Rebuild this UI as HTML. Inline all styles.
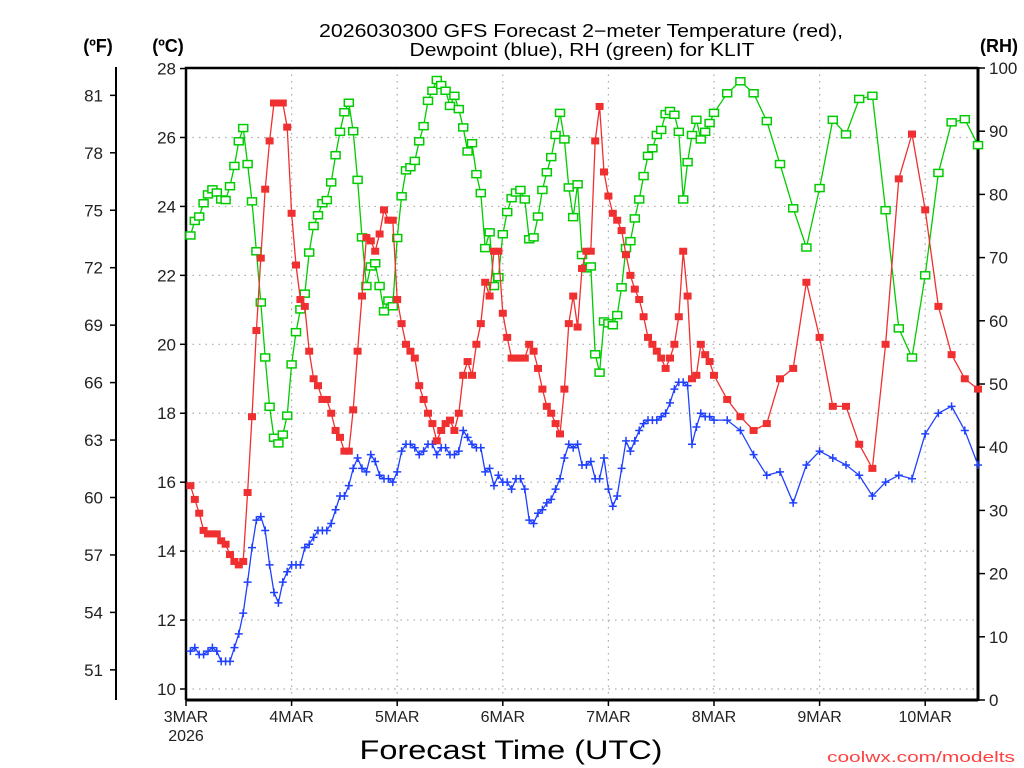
<!DOCTYPE html>
<html><head><meta charset="utf-8"><title>GFS Forecast KLIT</title>
<style>
html,body{margin:0;padding:0;background:#fff;width:1024px;height:768px;overflow:hidden}
svg text{font-family:"Liberation Sans","DejaVu Sans",sans-serif}
</style></head>
<body>
<svg id="chart" width="1024" height="768" viewBox="0 0 1024 768" xmlns="http://www.w3.org/2000/svg">
<text x="581" y="37" font-size="18" text-anchor="middle" textLength="524" lengthAdjust="spacingAndGlyphs">2026030300 GFS Forecast 2−meter Temperature (red),</text>
<text x="582" y="56" font-size="18" text-anchor="middle" textLength="345" lengthAdjust="spacingAndGlyphs">Dewpoint (blue), RH (green) for KLIT</text>
<text x="98" y="52" font-size="18" font-weight="bold" text-anchor="middle">(ºF)</text>
<text x="168" y="52" font-size="18" font-weight="bold" text-anchor="middle">(ºC)</text>
<text x="999" y="52" font-size="18" font-weight="bold" text-anchor="middle">(RH)</text>
<text x="511" y="759" font-size="27" text-anchor="middle" textLength="303" lengthAdjust="spacingAndGlyphs">Forecast Time (UTC)</text>
<text x="1015" y="762" font-size="15" fill="#ff4040" text-anchor="end" textLength="188" lengthAdjust="spacingAndGlyphs">coolwx.com/modelts</text>
<g id="grid"></g><g id="axes"></g><g id="series"></g>
</svg>
<script>
// ---- data ----
const hoursHourly = Array.from({length:120},(_, i)=>i+1);
const hours3h = [123,126,129,132,135,138,141,144,147,150,153,156,159,162,165,168,171,174,177,180];
const forecastHours = hoursHourly.concat(hours3h);
const tempC = [15.9,15.5,15.1,14.6,14.5,14.5,14.5,14.3,14.2,13.9,13.7,13.6,13.7,15.7,17.9,20.4,22.5,24.5,25.9,27.0,27.0,27.0,26.3,23.8,22.3,21.3,21.1,19.8,19.0,18.8,18.4,18.4,18.0,17.5,17.3,16.9,16.9,18.1,19.8,21.4,23.1,23.0,22.7,23.2,23.9,23.6,23.6,21.3,20.6,20.0,19.8,19.6,18.8,18.4,18.0,17.7,17.2,17.5,17.7,17.8,17.5,18.0,19.1,19.5,19.1,20.0,20.6,21.8,21.4,22.7,22.7,20.9,20.2,19.6,19.6,19.6,19.6,20.0,19.8,19.3,18.7,18.2,18.0,17.7,17.4,18.7,20.6,21.4,20.5,22.2,22.7,22.7,25.9,26.9,25.0,24.3,23.8,23.6,23.3,22.6,22.0,21.6,21.3,20.8,20.2,20.0,19.8,19.6,19.3,19.6,20.0,20.8,22.7,21.4,19.0,19.1,20.0,19.7,19.5,19.1,
18.4,17.9,17.5,17.7,19.0,19.3,21.8,20.2,18.2,18.2,17.1,16.4,20.0,24.8,26.1,23.9,21.1,19.7,19.0,18.7];
const dewC = [11.1,11.2,11.0,11.0,11.1,11.2,11.1,10.8,10.8,10.8,11.2,11.6,12.2,13.1,14.1,14.9,15.0,14.6,13.6,12.8,12.5,13.1,13.4,13.6,13.6,13.6,14.1,14.2,14.4,14.6,14.6,14.6,14.8,15.2,15.6,15.6,15.9,16.4,16.7,16.4,16.3,16.8,16.6,16.2,16.1,16.1,16.0,16.3,16.9,17.1,17.1,17.0,16.8,16.9,17.1,17.1,16.8,17.0,17.0,16.8,16.8,16.9,17.5,17.3,17.1,17.0,17.0,16.3,16.4,15.9,16.2,16.0,16.0,15.8,16.1,16.1,15.8,14.9,14.8,15.1,15.2,15.4,15.5,15.8,16.1,16.7,17.1,17.0,17.1,16.5,16.5,16.6,16.1,16.1,16.7,15.8,15.3,15.6,16.4,17.2,16.9,17.2,17.5,17.7,17.8,17.8,17.8,17.9,18.0,18.3,18.7,18.9,18.9,18.8,17.1,17.6,18.0,17.9,17.9,17.8,
17.8,17.5,16.8,16.2,16.3,15.4,16.5,16.9,16.7,16.5,16.2,15.6,16.0,16.2,16.1,17.4,18.0,18.2,17.5,16.5];
const rhPct = [73.5,75.8,76.5,78.6,80.0,80.8,80.3,79.2,79.1,81.3,84.5,88.4,90.5,84.8,78.9,71.0,62.9,54.2,46.4,41.5,40.6,42.0,45.0,53.1,58.2,61.8,64.3,70.8,75.0,76.7,78.6,79.1,81.9,86.2,89.9,93.0,94.5,90.0,82.3,73.2,65.5,68.6,69.1,65.5,61.5,63.2,62.3,73.1,79.7,83.8,84.3,85.3,88.4,90.8,94.8,96.4,98.1,97.3,96.4,94.0,95.6,93.5,90.6,86.8,88.1,83.2,80.2,71.5,74.0,65.5,66.9,73.7,77.2,79.4,80.3,80.7,79.2,72.9,73.2,76.5,80.7,83.5,85.9,89.4,92.9,88.7,81.1,76.4,81.6,70.4,68.3,68.6,54.7,51.8,59.9,59.6,59.3,60.9,65.3,71.5,72.6,76.2,79.2,82.9,86.1,87.3,89.4,90.2,92.7,93.2,92.6,89.9,79.2,85.1,89.4,91.8,88.7,89.9,91.3,92.9,
96.0,97.9,96.0,91.6,84.8,77.8,71.6,81.0,91.8,89.5,95.1,95.6,77.5,58.8,54.2,67.2,83.4,91.4,91.9,87.8];
const celsiusTicks = [10,12,14,16,18,20,22,24,26,28];
const fahrenheitTicks = [51,54,57,60,63,66,69,72,75,78,81];
const rhTicks = [0,10,20,30,40,50,60,70,80,90,100];
const dayLabels = ["3MAR","4MAR","5MAR","6MAR","7MAR","8MAR","9MAR","10MAR"];

// ---- scales ----
const L=186,R=978,T=68,B=700;
const xH = h => L + h*(R-L)/180;
const yC = c => 689 - (c-10)*34.47;
const yRH = r => B - r*(B-T)/100;
const NS="http://www.w3.org/2000/svg";
function mk(tag, attrs, parent){const e=document.createElementNS(NS,tag);for(const k in attrs)e.setAttribute(k,attrs[k]);parent.appendChild(e);return e;}
const grid=document.getElementById('grid'), axes=document.getElementById('axes'), ser=document.getElementById('series');

celsiusTicks.forEach(c=>{
  const l=mk('line',{x1:L,x2:R,y1:yC(c),y2:yC(c),stroke:'#aaa','stroke-width':1.2,'stroke-dasharray':'1.5 5'},grid);
  
  
});
dayLabels.forEach((d,i)=>{
  if(i===0) return;
  const x=xH(i*24);
  const l=mk('line',{x1:x,x2:x,y1:T,y2:B,stroke:'#aaa','stroke-width':1.2,'stroke-dasharray':'1.5 5'},grid);
  
  
});

const frame=mk('path',{d:`M${L},${B}V${T}H${R}`,fill:'none',stroke:'#000','stroke-width':2.5},axes);


const bottom=mk('line',{x1:L,x2:R,y1:B,y2:B,stroke:'#000','stroke-width':3},axes);


const right=mk('line',{x1:R,x2:R,y1:T-1,y2:B+1,stroke:'#000','stroke-width':3},axes);


const fl=mk('line',{x1:116,x2:116,y1:67,y2:700,stroke:'#000','stroke-width':2},axes);



celsiusTicks.forEach(c=>{
  const y=yC(c);
  mk('line',{x1:L-6,x2:L,y1:y,y2:y,stroke:'#000','stroke-width':1.5},axes);
  const t=mk('text',{x:L-10,y:y+6,'font-size':17,'text-anchor':'end',fill:'#222'},axes);
  t.textContent=c;
  
  
});
fahrenheitTicks.forEach(f=>{
  const y=yC((f-32)*5/9);
  mk('line',{x1:110,x2:116,y1:y,y2:y,stroke:'#000','stroke-width':1.5},axes);
  const t=mk('text',{x:103,y:y+6,'font-size':17,'text-anchor':'end',fill:'#222'},axes);
  t.textContent=f;
  
  
});
rhTicks.forEach(r=>{
  const y=yRH(r);
  mk('line',{x1:R,x2:R+7,y1:y,y2:y,stroke:'#000','stroke-width':1.5},axes);
  const t=mk('text',{x:R+11,y:y+6,'font-size':17,'text-anchor':'start',fill:'#222'},axes);
  t.textContent=r;
  
  
});
dayLabels.forEach((d,i)=>{
  const x=xH(i*24);
  mk('line',{x1:x,x2:x,y1:B,y2:B+6,stroke:'#000','stroke-width':1.5},axes);
  const t=mk('text',{x:x,y:722,'font-size':16,'text-anchor':'middle',fill:'#222'},axes);
  t.textContent=d;
  
  
});
const yr=mk('text',{x:186,y:741,'font-size':16,'text-anchor':'middle',fill:'#222'},axes);
yr.textContent='2026';



function drawSeries(vals, yf, color, kind, name){
  const g=mk('g',{},ser);
  
  
  const pts=vals.map((v,i)=>[xH(forecastHours[i]),yf(v)]);
  const line=mk('polyline',{points:pts.map(p=>p[0].toFixed(1)+','+p[1].toFixed(1)).join(' '),fill:'none',stroke:color,'stroke-width':1.3},g);
  
  
  pts.forEach(p=>{
    let m;
    if(kind==='filled'){ m=mk('rect',{x:p[0]-4,y:p[1]-3.5,width:8,height:7,fill:color},g); }
    else if(kind==='hollow'){ m=mk('rect',{x:p[0]-4.5,y:p[1]-3.5,width:9,height:7,fill:'#fff',stroke:color,'stroke-width':1.5},g); }
    else { m=mk('path',{d:`M${p[0]-4},${p[1]}h8M${p[0]},${p[1]-4}v8`,stroke:color,'stroke-width':1.5},g); }
    
    
  });
}
drawSeries(rhPct, yRH, '#00cc00', 'hollow', 'rh');
drawSeries(dewC, yC, '#2040ff', 'plus', 'dewpoint');
drawSeries(tempC, yC, '#f03030', 'filled', 'temperature');
</script>
</body></html>
